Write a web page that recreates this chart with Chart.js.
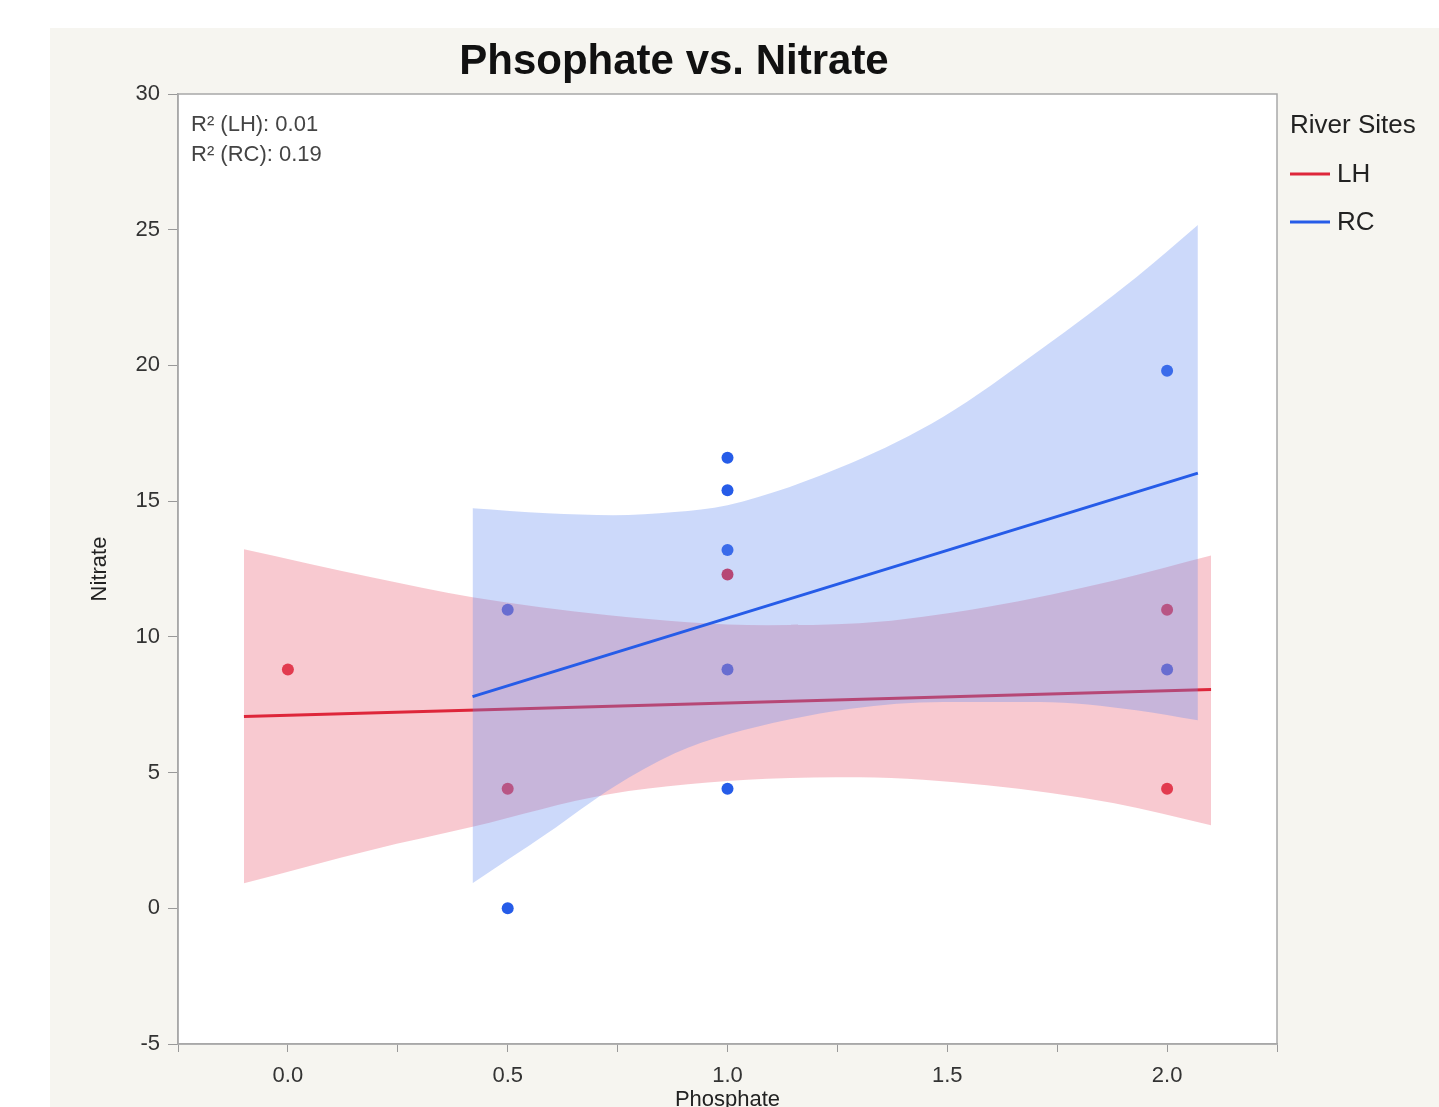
<!DOCTYPE html>
<html>
<head>
<meta charset="utf-8">
<title>Phsophate vs. Nitrate</title>
<script src="https://cdn.jsdelivr.net/npm/chart.js@4.4.1/dist/chart.umd.min.js"></script>
<style>
  html, body { margin: 0; padding: 0; background: #ffffff; overflow: hidden; }
  #wrap { position: absolute; left: 50px; top: 28px; width: 1389px; height: 1100px; background: #f6f5f0; }
</style>
</head>
<body>
<div id="wrap"><canvas id="chart" width="1389" height="1100"></canvas></div>
<script>
'use strict';

// raw points
const lhPhosphate = [0.0, 0.5, 1.0, 2.0, 2.0];
const lhNitrate   = [8.8, 4.4, 12.3, 11.0, 4.4];
const rcPhosphate = [0.5, 0.5, 1.0, 1.0, 1.0, 1.0, 1.0, 2.0, 2.0];
const rcNitrate   = [0.0, 11.0, 16.6, 15.4, 13.2, 8.8, 4.4, 19.8, 8.8];

// fitted lines
const lhFitX = [-0.1, 2.1];
const lhFitY = [7.07, 8.06];
const rcFitX = [0.42, 2.07];
const rcFitY = [7.80, 16.03];

// confidence bands
const lhBandX     = [-0.1, 0.19, 0.42, 0.73, 1.09, 1.30, 1.59, 1.88, 2.1];
const lhBandUpper = [13.23, 12.2, 11.46, 10.8, 10.43, 10.5, 11.1, 12.08, 13.0];
const lhBandLower = [0.92, 2.15, 3.0, 4.2, 4.77, 4.83, 4.53, 3.87, 3.06];
const rcBandX     = [0.42, 0.59, 0.74, 0.88, 1.0, 1.28, 1.49, 1.71, 1.93, 2.07];
const rcBandUpper = [14.74, 14.55, 14.48, 14.6, 14.85, 16.4, 18.1, 20.56, 23.25, 25.17];
const rcBandLower = [0.92, 2.76, 4.46, 5.71, 6.4, 7.35, 7.6, 7.6, 7.3, 6.93];

// axis ticks
const xTicks = [0.0, 0.5, 1.0, 1.5, 2.0];
const yTicks = [-5, 0, 5, 10, 15, 20, 25, 30];

const r2Labels = ['R\u00b2 (LH): 0.01', 'R\u00b2 (RC): 0.19'];
const siteNames = ['LH', 'RC'];

const FONT = '"Liberation Sans", Arial, Helvetica, sans-serif';
const RED = 'rgb(222,38,58)';
const BLUE = 'rgb(38,92,232)';
const RED_FILL = 'rgba(235,100,120,0.35)';
const BLUE_FILL = 'rgba(100,140,240,0.33)';
const NONE = 'rgba(0,0,0,0)';

function pts(xs, ys) {
  return xs.map(function (x, i) { return { x: x, y: ys[i] }; });
}

// title, legend, R² text and plot frame
const decorations = {
  id: 'decorations',
  beforeDraw: function (chart) {
    const a = chart.chartArea, ctx = chart.ctx;
    ctx.save();
    ctx.fillStyle = '#ffffff';
    ctx.fillRect(a.left, a.top, a.right - a.left, a.bottom - a.top);
    ctx.restore();
  },
  afterDraw: function (chart) {
    const a = chart.chartArea, ctx = chart.ctx;
    ctx.save();
    ctx.strokeStyle = '#a8a8a8';
    ctx.lineWidth = 1.5;
    ctx.strokeRect(a.left, a.top, a.right - a.left, a.bottom - a.top);

    ctx.fillStyle = '#111';
    ctx.font = 'bold 42px ' + FONT;
    ctx.textAlign = 'center';
    ctx.textBaseline = 'middle';
    ctx.fillText('Phsophate vs. Nitrate', 624, 34);

    ctx.fillStyle = '#444';
    ctx.font = '22px ' + FONT;
    ctx.textAlign = 'left';
    r2Labels.forEach(function (t, i) {
      ctx.fillText(t, a.left + 13, a.top + 31 + i * 30);
    });

    const lx = a.right + 13;
    ctx.fillStyle = '#222';
    ctx.font = '26px ' + FONT;
    ctx.fillText('River Sites', lx, a.top + 32);
    [RED, BLUE].forEach(function (c, i) {
      const y = a.top + 80 + i * 48;
      ctx.strokeStyle = c;
      ctx.lineWidth = 3;
      ctx.beginPath();
      ctx.moveTo(lx, y);
      ctx.lineTo(lx + 40, y);
      ctx.stroke();
      ctx.fillStyle = '#222';
      ctx.fillText(siteNames[i], lx + 47, y + 1);
    });
    ctx.restore();
  }
};

new Chart(document.getElementById('chart'), {
  type: 'scatter',
  data: {
    datasets: [
      { label: 'LH', data: pts(lhPhosphate, lhNitrate), order: 10,
        pointRadius: 6, pointBorderWidth: 0, backgroundColor: RED, borderColor: RED },
      { label: 'RC', data: pts(rcPhosphate, rcNitrate), order: 9,
        pointRadius: 6, pointBorderWidth: 0, backgroundColor: BLUE, borderColor: BLUE },
      { label: 'LH lower', data: pts(lhBandX, lhBandLower), order: 8, showLine: true,
        pointRadius: 0, borderWidth: 0, borderColor: NONE, cubicInterpolationMode: 'monotone', fill: false },
      { label: 'LH upper', data: pts(lhBandX, lhBandUpper), order: 8, showLine: true,
        pointRadius: 0, borderWidth: 0, borderColor: NONE, cubicInterpolationMode: 'monotone',
        fill: 2, backgroundColor: RED_FILL },
      { label: 'LH fit', data: pts(lhFitX, lhFitY), order: 7, showLine: true,
        pointRadius: 0, borderWidth: 3, borderColor: RED },
      { label: 'RC lower', data: pts(rcBandX, rcBandLower), order: 6, showLine: true,
        pointRadius: 0, borderWidth: 0, borderColor: NONE, cubicInterpolationMode: 'monotone', fill: false },
      { label: 'RC upper', data: pts(rcBandX, rcBandUpper), order: 6, showLine: true,
        pointRadius: 0, borderWidth: 0, borderColor: NONE, cubicInterpolationMode: 'monotone',
        fill: 5, backgroundColor: BLUE_FILL },
      { label: 'RC fit', data: pts(rcFitX, rcFitY), order: 5, showLine: true,
        pointRadius: 0, borderWidth: 3, borderColor: BLUE }
    ]
  },
  options: {
    responsive: false,
    animation: false,
    layout: { padding: { top: 66, right: 162, left: 0, bottom: 0 } },
    plugins: {
      legend: { display: false },
      tooltip: { enabled: false },
      title: { display: false }
    },
    scales: {
      x: {
        type: 'linear',
        min: -0.25,
        max: 2.25,
        afterFit: function (s) { s.height = 84; },
        afterBuildTicks: function (s) {
          const t = [];
          for (let v = -0.25; v <= 2.2501; v += 0.25) t.push({ value: Math.round(v * 100) / 100 });
          s.ticks = t;
        },
        ticks: {
          autoSkip: false,
          maxRotation: 0,
          padding: 11,
          color: '#333',
          font: { family: FONT, size: 22 },
          callback: function (v) { return xTicks.indexOf(v) >= 0 ? v.toFixed(1) : ''; }
        },
        grid: { drawOnChartArea: false, drawTicks: true, tickLength: 8, color: '#999' },
        border: { display: true, color: '#a8a8a8', width: 1.5 },
        title: { display: true, text: 'Phosphate', color: '#222',
          font: { family: FONT, size: 22 }, padding: { top: 0, bottom: 15 } }
      },
      y: {
        min: -5,
        max: 30,
        afterFit: function (s) { s.width = 128; },
        afterBuildTicks: function (s) { s.ticks = yTicks.map(function (v) { return { value: v }; }); },
        ticks: {
          padding: 8,
          color: '#333',
          font: { family: FONT, size: 22 }
        },
        grid: { drawOnChartArea: false, drawTicks: true, tickLength: 10, color: '#999' },
        border: { display: true, color: '#a8a8a8', width: 1.5 },
        title: { display: true, text: 'Nitrate', color: '#222',
          font: { family: FONT, size: 22 }, padding: { top: 37, bottom: 0 } }
      }
    }
  },
  plugins: [decorations]
});
</script>
</body>
</html>
